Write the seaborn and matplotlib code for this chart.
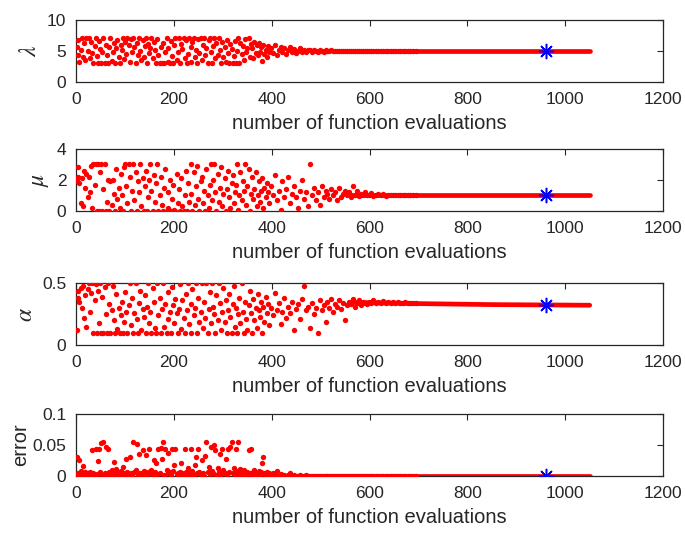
import numpy as np
import matplotlib
matplotlib.use("Agg")
import matplotlib.pyplot as plt
import seaborn as sns

# evaluation index of the scattered (exploration) part, shared by all panels
evals = [1, 3, 5, 7, 10, 12, 14, 17, 19, 21,
         24, 26, 28, 31, 33, 35, 38, 40, 42, 45,
         47, 49, 52, 54, 56, 59, 61, 63, 66, 68,
         70, 73, 75, 77, 80, 82, 84, 87, 89, 91,
         94, 96, 98, 101, 103, 105, 108, 110, 112, 115,
         117, 119, 122, 124, 126, 129, 131, 133, 136, 138,
         140, 143, 145, 147, 150, 152, 154, 157, 159, 161,
         164, 166, 168, 171, 173, 175, 178, 180, 182, 185,
         187, 189, 192, 194, 196, 199, 201, 203, 206, 208,
         210, 213, 215, 217, 220, 222, 224, 227, 229, 231,
         234, 236, 238, 241, 243, 245, 248, 250, 252, 255,
         257, 259, 262, 264, 266, 269, 271, 273, 276, 278,
         280, 283, 285, 287, 290, 292, 294, 297, 299, 301,
         304, 306, 308, 311, 313, 315, 318, 320, 322, 325,
         327, 329, 332, 334, 336, 339, 341, 343, 346, 348,
         350, 353, 355, 357, 360, 362, 364, 367, 369, 371,
         374, 376, 378, 381, 383, 385, 388, 390, 392, 395,
         398, 402, 406, 410, 414, 418, 422, 426, 430, 434,
         438, 442, 446, 450, 454, 458, 462, 466, 470, 474,
         478, 482, 486, 490, 494, 498, 502, 506, 510, 514,
         518, 522, 526, 530, 534, 538, 542, 546, 550, 554,
         558, 562, 566, 570, 574, 578, 582, 586, 590, 594,
         598, 603, 608, 613, 618, 623, 628, 633, 638, 643,
         648, 653, 658, 663, 668, 673, 678, 683, 688, 694]

lam = [5.6, 4.3, 6.8, 3.2, 5.1, 7.0, 4.0, 6.2, 3.6, 7.0,
       5.0, 7.0, 3.8, 6.4, 4.6, 3.0, 5.8, 7.0, 4.2, 3.0,
       6.6, 5.3, 3.0, 4.8, 7.0, 3.0, 6.0, 4.4, 3.0, 5.6,
       7.0, 3.4, 4.9, 6.3, 3.0, 5.5, 6.8, 4.1, 3.0, 6.0,
       5.2, 7.0, 3.7, 6.5, 4.5, 7.0, 5.9, 3.3, 6.9, 4.8,
       7.0, 5.6, 3.0, 6.2, 4.3, 7.0, 5.0, 3.5, 6.7, 4.0,
       5.8, 7.0, 3.0, 6.1, 4.7, 5.4, 7.0, 3.9, 6.4, 5.1,
       3.0, 6.9, 4.4, 3.0, 5.7, 3.1, 6.3, 3.0, 4.9, 7.0,
       3.3, 5.5, 3.0, 6.6, 4.2, 3.0, 5.9, 7.0, 3.6, 4.8,
       7.0, 3.0, 6.1, 5.3, 7.0, 3.8, 6.8, 3.0, 4.5, 7.0,
       5.7, 3.2, 6.4, 7.0, 4.1, 5.2, 3.0, 6.9, 4.6, 7.0,
       3.5, 6.0, 7.0, 4.3, 5.4, 3.0, 6.7, 7.0, 4.9, 3.0,
       5.8, 7.0, 3.9, 6.2, 4.4, 7.0, 5.1, 3.0, 6.5, 4.0,
       5.6, 3.3, 6.8, 4.7, 3.0, 6.1, 5.3, 3.0, 4.2, 6.6,
       3.0, 5.0, 7.0, 3.0, 6.3, 4.5, 5.8, 3.6, 6.9, 4.8,
       5.4, 7.0, 4.0, 6.1, 5.5, 3.8, 6.4, 4.6, 5.9, 4.3,
       6.3, 4.9, 5.6, 3.4, 6.0, 4.5, 5.2, 4.1, 5.8, 4.8,
       5.5, 4.6, 5.9, 4.3, 5.2, 5.7, 4.8, 5.4, 4.5, 5.1,
       5.6, 4.8, 5.3, 4.7, 5.0, 5.4, 4.9, 5.2, 4.8, 5.1,
       5.2, 4.9, 5.1, 5.0, 4.8, 5.1, 5.0, 4.9, 5.1, 5.0,
       5.0, 5.1, 4.95, 5.0, 5.05, 5.0, 4.97, 5.02, 5.0, 5.0,
       5.0, 5.0, 5.0, 5.0, 5.0, 5.0, 5.0, 5.0, 5.0, 5.0,
       5.0, 5.0, 5.0, 5.0, 5.0, 5.0, 5.0, 5.0, 5.0, 5.0,
       5.0, 5.0, 5.0, 5.0, 5.0, 5.0, 5.0, 5.0, 5.0, 5.0]

mu = [1.9, 2.8, 2.2, 1.8, 0.5, 2.1, 0.3, 2.6, 1.5, 2.4,
      0.9, 2.2, 1.2, 2.9, 0.2, 3.0, 1.7, 3.0, 0.0, 3.0,
      0.0, 2.5, 3.0, 0.0, 1.4, 3.0, 0.0, 0.6, 2.0, 0.0,
      1.9, 0.4, 2.0, 1.1, 0.0, 2.7, 0.8, 1.5, 0.2, 2.4,
      1.0, 0.0, 2.8, 3.0, 1.6, 0.5, 3.0, 2.2, 0.0, 1.3,
      3.0, 0.7, 2.5, 0.0, 1.9, 1.2, 3.0, 0.3, 2.1, 0.0,
      1.6, 2.6, 0.0, 0.9, 2.0, 3.0, 1.3, 0.0, 2.3, 0.6,
      1.8, 3.0, 0.0, 1.0, 2.2, 0.4, 0.0, 1.5, 2.7, 0.0,
      1.2, 0.2, 2.0, 0.0, 0.8, 1.7, 0.1, 0.0, 2.4, 0.5,
      1.4, 0.0, 2.1, 0.3, 0.0, 1.0, 2.6, 0.0, 1.8, 0.6,
      3.0, 1.1, 0.0, 2.5, 0.4, 1.6, 2.9, 0.8, 0.0, 1.9,
      2.2, 0.5, 1.3, 0.0, 2.7, 1.0, 0.2, 1.7, 3.0, 0.7,
      2.0, 3.0, 1.2, 0.0, 2.4, 0.6, 1.5, 2.8, 0.3, 1.1,
      2.1, 0.0, 1.4, 2.6, 0.9, 0.2, 1.8, 2.3, 0.5, 1.2,
      1.7, 3.0, 0.1, 1.0, 2.5, 0.7, 1.9, 1.3, 3.0, 0.4,
      1.6, 2.7, 0.0, 1.1, 2.2, 0.8, 1.4, 2.5, 0.3, 1.0,
      1.9, 0.6, 1.3, 2.1, 0.2, 1.5, 0.9, 1.8, 1.2, 0.5,
      1.6, 1.0, 2.3, 0.7, 1.3, 0.1, 1.9, 0.9, 1.4, 2.2,
      0.5, 1.1, 1.6, 0.9, 0.2, 1.3, 2.0, 0.8, 1.2, 0.3,
      3.0, 1.0, 1.5, 0.7, 1.2, 0.4, 1.6, 0.9, 1.3, 1.1,
      0.8, 1.4, 1.0, 1.2, 0.7, 1.5, 0.9, 1.1, 1.3, 1.0,
      1.2, 0.9, 1.6, 1.0, 1.3, 0.95, 1.1, 1.05, 1.2, 1.0,
      1.05, 1.15, 0.95, 1.0, 1.1, 1.0, 1.08, 0.98, 1.04, 1.0,
      1.02, 1.0, 1.05, 1.0, 1.0, 1.01, 1.0, 1.0, 1.0, 1.0]

alpha = [0.12, 0.38, 0.44, 0.35, 0.46, 0.30, 0.48, 0.22, 0.40, 0.15,
         0.45, 0.50, 0.27, 0.42, 0.50, 0.10, 0.36, 0.49, 0.10, 0.44,
         0.18, 0.50, 0.10, 0.39, 0.10, 0.47, 0.25, 0.10, 0.50, 0.33,
         0.10, 0.28, 0.48, 0.20, 0.10, 0.41, 0.13, 0.30, 0.10, 0.24,
         0.35, 0.10, 0.19, 0.43, 0.27, 0.10, 0.32, 0.50, 0.16, 0.38,
         0.10, 0.26, 0.50, 0.21, 0.10, 0.34, 0.44, 0.12, 0.29, 0.23,
         0.40, 0.10, 0.31, 0.50, 0.18, 0.27, 0.10, 0.46, 0.35, 0.14,
         0.10, 0.50, 0.24, 0.38, 0.10, 0.29, 0.50, 0.15, 0.33, 0.10,
         0.43, 0.21, 0.27, 0.10, 0.47, 0.32, 0.18, 0.37, 0.26, 0.10,
         0.29, 0.49, 0.13, 0.36, 0.22, 0.10, 0.41, 0.28, 0.50, 0.17,
         0.33, 0.10, 0.45, 0.24, 0.30, 0.50, 0.10, 0.38, 0.19, 0.27,
         0.50, 0.14, 0.35, 0.22, 0.50, 0.10, 0.29, 0.43, 0.18, 0.50,
         0.31, 0.25, 0.10, 0.40, 0.20, 0.50, 0.34, 0.12, 0.27, 0.46,
         0.19, 0.36, 0.10, 0.28, 0.41, 0.23, 0.10, 0.33, 0.48, 0.15,
         0.30, 0.10, 0.25, 0.38, 0.18, 0.50, 0.27, 0.10, 0.35, 0.21,
         0.12, 0.32, 0.44, 0.26, 0.10, 0.37, 0.20, 0.30, 0.14, 0.41,
         0.28, 0.23, 0.35, 0.10, 0.31, 0.19, 0.39, 0.26, 0.33, 0.16,
         0.30, 0.24, 0.42, 0.28, 0.34, 0.17, 0.27, 0.38, 0.22, 0.31,
         0.26, 0.35, 0.12, 0.29, 0.33, 0.21, 0.37, 0.48, 0.28, 0.31,
         0.14, 0.34, 0.25, 0.30, 0.10, 0.36, 0.28, 0.32, 0.19, 0.35,
         0.30, 0.37, 0.27, 0.33, 0.31, 0.36, 0.29, 0.34, 0.20, 0.32,
         0.35, 0.33, 0.37, 0.31, 0.34, 0.36, 0.32, 0.35, 0.34, 0.33,
         0.345, 0.34, 0.36, 0.34, 0.35, 0.34, 0.355, 0.34, 0.345, 0.34,
         0.35, 0.34, 0.345, 0.34, 0.34, 0.345, 0.34, 0.34, 0.34, 0.34]

error = [0.030, 0.004, 0.002, 0.025, 0.008, 0.001, 0.016, 0.003, 0.006, 0.000,
         0.005, 0.002, 0.007, 0.001, 0.042, 0.004, 0.000, 0.043, 0.003, 0.024,
         0.044, 0.006, 0.053, 0.002, 0.055, 0.005, 0.046, 0.001, 0.044, 0.007,
         0.003, 0.009, 0.000, 0.023, 0.005, 0.011, 0.002, 0.006, 0.004, 0.008,
         0.001, 0.015, 0.005, 0.003, 0.027, 0.007, 0.000, 0.030, 0.004, 0.002,
         0.055, 0.006, 0.009, 0.052, 0.001, 0.035, 0.005, 0.003, 0.042, 0.008,
         0.002, 0.033, 0.000, 0.006, 0.044, 0.004, 0.010, 0.001, 0.026, 0.007,
         0.020, 0.003, 0.043, 0.005, 0.045, 0.028, 0.055, 0.001, 0.044, 0.009,
         0.004, 0.037, 0.006, 0.002, 0.043, 0.008, 0.017, 0.043, 0.003, 0.005,
         0.001, 0.007, 0.021, 0.004, 0.000, 0.044, 0.006, 0.002, 0.013, 0.005,
         0.044, 0.003, 0.008, 0.001, 0.018, 0.030, 0.004, 0.043, 0.007, 0.002,
         0.026, 0.005, 0.000, 0.032, 0.055, 0.006, 0.015, 0.003, 0.046, 0.008,
         0.004, 0.050, 0.042, 0.001, 0.012, 0.007, 0.035, 0.003, 0.043, 0.010,
         0.005, 0.027, 0.002, 0.043, 0.006, 0.046, 0.055, 0.004, 0.012, 0.001,
         0.044, 0.008, 0.055, 0.003, 0.011, 0.006, 0.002, 0.009, 0.005, 0.001,
         0.007, 0.042, 0.004, 0.043, 0.002, 0.006, 0.010, 0.001, 0.005, 0.003,
         0.008, 0.002, 0.006, 0.020, 0.031, 0.004, 0.001, 0.007, 0.003, 0.005,
         0.002, 0.004, 0.001, 0.008, 0.000, 0.003, 0.001, 0.002, 0.000, 0.001,
         0.004, 0.000, 0.001, 0.000, 0.000, 0.001, 0.000, 0.000, 0.001, 0.000,
         0.0, 0.0, 0.0, 0.0, 0.0, 0.0, 0.0, 0.0, 0.0, 0.0,
         0.0, 0.0, 0.0, 0.0, 0.0, 0.0, 0.0, 0.0, 0.0, 0.0,
         0.0, 0.0, 0.0, 0.0, 0.0, 0.0, 0.0, 0.0, 0.0, 0.0,
         0.0, 0.0, 0.0, 0.0, 0.0, 0.0, 0.0, 0.0, 0.0, 0.0,
         0.0, 0.0, 0.0, 0.0, 0.0, 0.0, 0.0, 0.0, 0.0, 0.0]

# converged tails (dense run of evaluations up to 1050)
lam_tail_x, lam_tail_y = [530, 1050], [5.0, 5.0]
mu_tail_x, mu_tail_y = [560, 1050], [1.0, 1.0]
alpha_tail_x, alpha_tail_y = [560, 700, 850, 1050], [0.345, 0.335, 0.327, 0.322]
err_tail_x, err_tail_y = [400, 1050], [0.0, 0.0]

# best point (blue star)
best_eval = 960
best_vals = [5.0, 1.0, 0.325, 0.0]

ylabels = [r"$\lambda$", r"$\mu$", r"$\alpha$", "error"]
ylims = [(0, 10), (0, 4), (0, 0.5), (0, 0.1)]
yticks = [[0, 5, 10], [0, 2, 4], [0, 0.5], [0, 0.05, 0.1]]
yticklabels = [["0", "5", "10"], ["0", "2", "4"], ["0", "0.5"], ["0", "0.05", "0.1"]]
xticks = [0, 200, 400, 600, 800, 1000, 1200]

sns.set_theme(style="white")
plt.rcParams["font.family"] = ["Liberation Sans", "DejaVu Sans"]
plt.rcParams["mathtext.fontset"] = "stix"

fig = plt.figure(figsize=(6.85, 5.33), dpi=100)
bottoms = [0.846, 0.604, 0.352, 0.107]
series = [lam, mu, alpha, error]
tails = [(lam_tail_x, lam_tail_y), (mu_tail_x, mu_tail_y),
         (alpha_tail_x, alpha_tail_y), (err_tail_x, err_tail_y)]

for i in range(4):
    ax = fig.add_axes([0.111, bottoms[i], 0.857, 0.117])
    sns.lineplot(x=tails[i][0], y=tails[i][1], ax=ax, color="red",
                 linewidth=3.4, zorder=2)
    sns.scatterplot(x=evals, y=series[i], ax=ax, color="red", s=15,
                    linewidth=0, edgecolor=None, zorder=3)
    ax.plot([best_eval], [best_vals[i]], linestyle="none", marker=(8, 2, 0),
            markersize=11, markeredgewidth=1.1, color="blue", zorder=5)
    ax.set_xlim(0, 1200)
    ax.set_ylim(*ylims[i])
    ax.set_xticks(xticks)
    ax.set_yticks(yticks[i])
    ax.set_yticklabels(yticklabels[i])
    ax.tick_params(direction="in", length=4, width=0.8, top=True, right=True,
                   labelsize=12.5, colors="#262626", pad=7)
    for sp in ax.spines.values():
        sp.set_color("#262626")
        sp.set_linewidth(0.9)
    ax.set_xlabel("number of function evaluations", fontsize=14.5, color="#262626",
                  labelpad=5)
    if i == 3:
        ax.set_ylabel(ylabels[i], fontsize=14.5, color="#262626", labelpad=2)
    else:
        ax.set_ylabel(ylabels[i], fontsize=17, color="#262626", labelpad=4)

fig.savefig("out.png", dpi=100)
